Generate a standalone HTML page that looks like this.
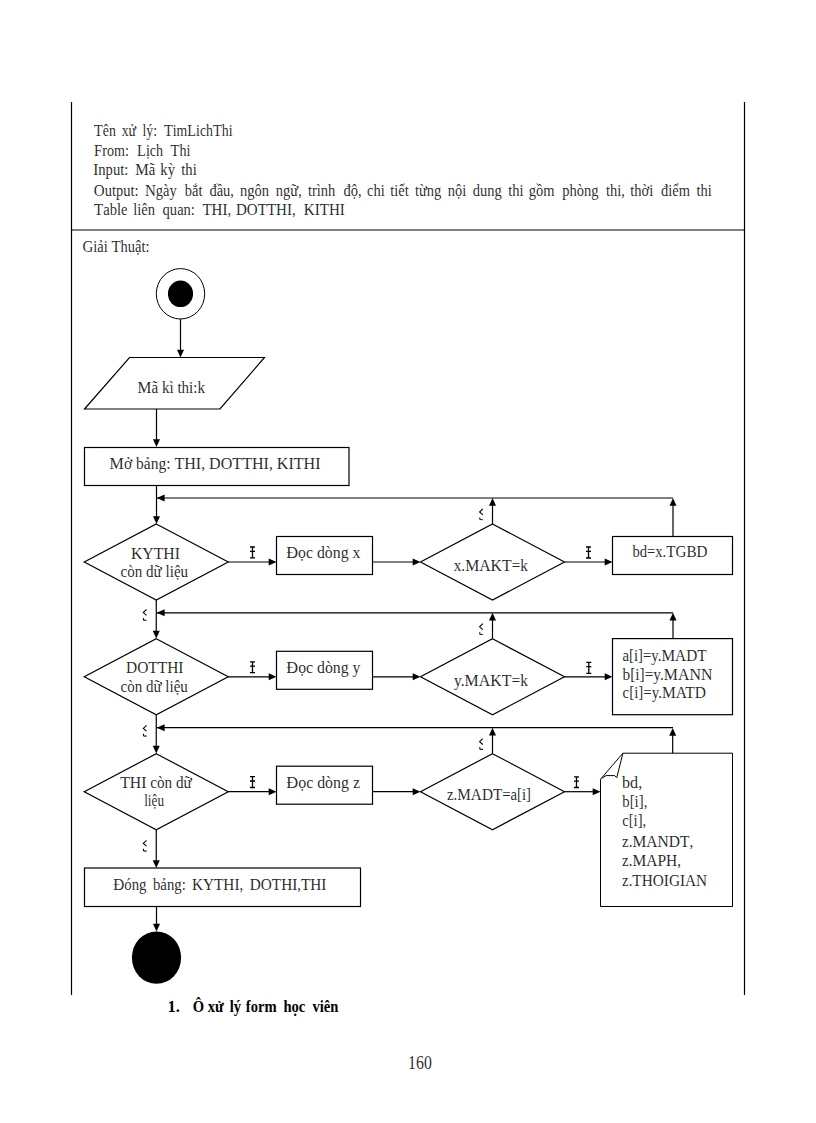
<!DOCTYPE html>
<html><head><meta charset="utf-8"><style>
html,body{margin:0;padding:0;background:#fff;}
svg{display:block;}
text{font-family:"Liberation Serif", serif;fill:#000;fill-opacity:0.85;} text[font-weight=bold]{fill-opacity:1;}
</style></head><body>
<svg width="816" height="1123" viewBox="0 0 816 1123">
<line x1="71.5" y1="102" x2="71.5" y2="995" stroke="#000" stroke-width="1.2"/>
<line x1="744.5" y1="102" x2="744.5" y2="995" stroke="#000" stroke-width="1.2"/>
<line x1="71" y1="230" x2="745" y2="230" stroke="#000" stroke-width="1.2"/>
<ellipse cx="180.5" cy="293.8" rx="24.2" ry="25.2" fill="none" stroke="#000" stroke-width="1"/>
<ellipse cx="180.5" cy="293.8" rx="12.6" ry="13.3" fill="#000"/>
<line x1="180.5" y1="319" x2="180.5" y2="352" stroke="#000" stroke-width="1.2"/>
<polygon points="177.0,349.7 184.0,349.7 180.5,357.5" fill="#000"/>
<polygon points="129.5,357.5 264.5,357.5 220,409 84.5,409" fill="none" stroke="#000" stroke-width="1.2"/>
<line x1="156.5" y1="409" x2="156.5" y2="441" stroke="#000" stroke-width="1.2"/>
<polygon points="153.0,439.2 160.0,439.2 156.5,447" fill="#000"/>
<rect x="84.5" y="447.5" width="264.5" height="38.0" fill="none" stroke="#000" stroke-width="1.2"/>
<line x1="156.5" y1="485.5" x2="156.5" y2="518" stroke="#000" stroke-width="1.2"/>
<polygon points="153.0,516.2 160.0,516.2 156.5,524" fill="#000"/>
<polygon points="156.25,524 228.25,562 156.25,600 84.25,562" fill="none" stroke="#000" stroke-width="1.2"/>
<rect x="276.5" y="536.5" width="96.0" height="38.0" fill="none" stroke="#000" stroke-width="1.2"/>
<line x1="228.25" y1="562" x2="270" y2="562" stroke="#000" stroke-width="1.2"/>
<polygon points="268.7,558.5 268.7,565.5 276.5,562" fill="#000"/>
<path d="M250.0,547 H255.0 M252.5,547 V557.8 M250.0,557.8 H255.0 M250.0,551.3199999999999 H255.0" stroke="#000" stroke-width="1.3" fill="none"/>
<polygon points="492.5,524 564.5,562 492.5,600 420.5,562" fill="none" stroke="#000" stroke-width="1.2"/>
<line x1="372.5" y1="562" x2="414" y2="562" stroke="#000" stroke-width="1.2"/>
<polygon points="412.7,558.5 412.7,565.5 420.5,562" fill="#000"/>
<line x1="492.5" y1="524" x2="492.5" y2="504" stroke="#000" stroke-width="1.2"/>
<polygon points="489.0,505.8 496.0,505.8 492.5,498" fill="#000"/>
<path d="M482.8,508.9 L479.59999999999997,512.0 L482.8,514.8 M479.7,517.5 L480.0,519.8 M480.0,519.5 L482.8,519.7" stroke="#000" stroke-width="1.1" fill="none"/>
<line x1="156.5" y1="498" x2="673" y2="498" stroke="#000" stroke-width="1.2"/>
<polygon points="164.60000000000002,494.5 164.60000000000002,501.5 156.8,498" fill="#000"/>
<polygon points="156.25,638.8 228.25,676.8 156.25,714.8 84.25,676.8" fill="none" stroke="#000" stroke-width="1.2"/>
<rect x="276.5" y="651.3" width="96.0" height="38.0" fill="none" stroke="#000" stroke-width="1.2"/>
<line x1="228.25" y1="676.8" x2="270" y2="676.8" stroke="#000" stroke-width="1.2"/>
<polygon points="268.7,673.3 268.7,680.3 276.5,676.8" fill="#000"/>
<path d="M250.0,661.8 H255.0 M252.5,661.8 V672.5999999999999 M250.0,672.5999999999999 H255.0 M250.0,666.1199999999999 H255.0" stroke="#000" stroke-width="1.3" fill="none"/>
<polygon points="492.5,638.8 564.5,676.8 492.5,714.8 420.5,676.8" fill="none" stroke="#000" stroke-width="1.2"/>
<line x1="372.5" y1="676.8" x2="414" y2="676.8" stroke="#000" stroke-width="1.2"/>
<polygon points="412.7,673.3 412.7,680.3 420.5,676.8" fill="#000"/>
<line x1="492.5" y1="638.8" x2="492.5" y2="618.8" stroke="#000" stroke-width="1.2"/>
<polygon points="489.0,620.5999999999999 496.0,620.5999999999999 492.5,612.8" fill="#000"/>
<path d="M482.8,623.6999999999999 L479.59999999999997,626.8 L482.8,629.5999999999999 M479.7,632.3 L480.0,634.5999999999999 M480.0,634.3 L482.8,634.5" stroke="#000" stroke-width="1.1" fill="none"/>
<line x1="156.5" y1="612.8" x2="673" y2="612.8" stroke="#000" stroke-width="1.2"/>
<polygon points="164.60000000000002,609.3 164.60000000000002,616.3 156.8,612.8" fill="#000"/>
<polygon points="156.25,753.7 228.25,791.7 156.25,829.7 84.25,791.7" fill="none" stroke="#000" stroke-width="1.2"/>
<rect x="276.5" y="766.2" width="96.0" height="38.0" fill="none" stroke="#000" stroke-width="1.2"/>
<line x1="228.25" y1="791.7" x2="270" y2="791.7" stroke="#000" stroke-width="1.2"/>
<polygon points="268.7,788.2 268.7,795.2 276.5,791.7" fill="#000"/>
<path d="M250.0,776.7 H255.0 M252.5,776.7 V787.5 M250.0,787.5 H255.0 M250.0,781.02 H255.0" stroke="#000" stroke-width="1.3" fill="none"/>
<polygon points="492.5,753.7 564.5,791.7 492.5,829.7 420.5,791.7" fill="none" stroke="#000" stroke-width="1.2"/>
<line x1="372.5" y1="791.7" x2="414" y2="791.7" stroke="#000" stroke-width="1.2"/>
<polygon points="412.7,788.2 412.7,795.2 420.5,791.7" fill="#000"/>
<line x1="492.5" y1="753.7" x2="492.5" y2="733.7" stroke="#000" stroke-width="1.2"/>
<polygon points="489.0,735.5 496.0,735.5 492.5,727.7" fill="#000"/>
<path d="M482.8,738.6 L479.59999999999997,741.7 L482.8,744.5 M479.7,747.2 L480.0,749.5 M480.0,749.2 L482.8,749.4000000000001" stroke="#000" stroke-width="1.1" fill="none"/>
<line x1="156.5" y1="727.7" x2="673" y2="727.7" stroke="#000" stroke-width="1.2"/>
<polygon points="164.60000000000002,724.2 164.60000000000002,731.2 156.8,727.7" fill="#000"/>
<rect x="612.5" y="536.5" width="120.0" height="38.0" fill="none" stroke="#000" stroke-width="1.2"/>
<line x1="564.5" y1="562" x2="606" y2="562" stroke="#000" stroke-width="1.2"/>
<polygon points="604.7,558.5 604.7,565.5 612.5,562" fill="#000"/>
<path d="M586.0,547 H591.0 M588.5,547 V558 M586.0,558 H591.0 M586.0,551.4 H591.0" stroke="#000" stroke-width="1.3" fill="none"/>
<line x1="673" y1="536.5" x2="673" y2="504" stroke="#000" stroke-width="1.2"/>
<polygon points="669.5,505.8 676.5,505.8 673,498" fill="#000"/>
<line x1="156.25" y1="600" x2="156.25" y2="631" stroke="#000" stroke-width="1.2"/>
<polygon points="152.75,630.7 159.75,630.7 156.25,638.5" fill="#000"/>
<path d="M146.5,609.5 L143.3,612.6 L146.5,615.4 M143.4,618.1 L143.70000000000002,620.4 M143.70000000000002,620.1 L146.5,620.3000000000001" stroke="#000" stroke-width="1.1" fill="none"/>
<rect x="612.5" y="638.6" width="120.0" height="76.10000000000002" fill="none" stroke="#000" stroke-width="1.2"/>
<line x1="564.5" y1="676.8" x2="606" y2="676.8" stroke="#000" stroke-width="1.2"/>
<polygon points="604.7,673.3 604.7,680.3 612.5,676.8" fill="#000"/>
<path d="M586.3,662.3 H591.3 M588.8,662.3 V673.3 M586.3,673.3 H591.3 M586.3,666.6999999999999 H591.3" stroke="#000" stroke-width="1.3" fill="none"/>
<line x1="673" y1="638.6" x2="673" y2="619" stroke="#000" stroke-width="1.2"/>
<polygon points="669.5,620.5999999999999 676.5,620.5999999999999 673,612.8" fill="#000"/>
<line x1="156.25" y1="715" x2="156.25" y2="746" stroke="#000" stroke-width="1.2"/>
<polygon points="152.75,745.7 159.75,745.7 156.25,753.5" fill="#000"/>
<path d="M146.5,725.3 L143.3,728.4 L146.5,731.1999999999999 M143.4,733.9 L143.70000000000002,736.1999999999999 M143.70000000000002,735.9 L146.5,736.1" stroke="#000" stroke-width="1.1" fill="none"/>
<path d="M622.9,753.2 H732.5 V906.5 H600.5 V779.2 L622.9,753.2 L616.8,777.6 L614.6,775.6 L606,775.6 L601.5,778.5" fill="none" stroke="#000" stroke-width="1"/>
<line x1="564.5" y1="791.7" x2="594" y2="791.7" stroke="#000" stroke-width="1.2"/>
<polygon points="592.7,788.2 592.7,795.2 600.5,791.7" fill="#000"/>
<path d="M574.0,776.8 H579.0 M576.5,776.8 V787.5 M574.0,787.5 H579.0 M574.0,781.0799999999999 H579.0" stroke="#000" stroke-width="1.3" fill="none"/>
<line x1="672.7" y1="753.2" x2="672.7" y2="734" stroke="#000" stroke-width="1.2"/>
<polygon points="669.2,735.8 676.2,735.8 672.7,728" fill="#000"/>
<line x1="156.25" y1="830" x2="156.25" y2="861" stroke="#000" stroke-width="1.2"/>
<polygon points="152.75,860.2 159.75,860.2 156.25,868" fill="#000"/>
<path d="M146.5,840.3 L143.3,843.4 L146.5,846.1999999999999 M143.4,848.9 L143.70000000000002,851.1999999999999 M143.70000000000002,850.9 L146.5,851.1" stroke="#000" stroke-width="1.1" fill="none"/>
<rect x="84.5" y="868" width="276.0" height="38.5" fill="none" stroke="#000" stroke-width="1.2"/>
<line x1="156.5" y1="906.5" x2="156.5" y2="925" stroke="#000" stroke-width="1.2"/>
<polygon points="153.0,923.7 160.0,923.7 156.5,931.5" fill="#000"/>
<ellipse cx="156.5" cy="957.6" rx="24.6" ry="26.2" fill="#000"/>
<text transform="translate(82.5 252) scale(1 1.0625)" x="0" y="0" font-size="16" font-weight="normal" textLength="66.94" lengthAdjust="spacingAndGlyphs"><tspan font-size="16.6">G</tspan>iải <tspan font-size="16.6">T</tspan>huật:</text>
<text transform="translate(137.56 392.6) scale(1 1.0625)" x="0" y="0" font-size="16" font-weight="normal" textLength="67.45" lengthAdjust="spacingAndGlyphs"><tspan font-size="16.6">M</tspan>ã kì thi:k</text>
<text transform="translate(109.56 469.2) scale(1 1.0625)" x="0" y="0" font-size="16" font-weight="normal" textLength="211.04" lengthAdjust="spacingAndGlyphs"><tspan font-size="16.6">M</tspan>ở bảng: <tspan font-size="16.6">THI</tspan>, <tspan font-size="16.6">DOTTHI</tspan>, <tspan font-size="16.6">KITHI</tspan></text>
<text transform="translate(130.88 558.6) scale(1 1.0625)" x="0" y="0" font-size="16" font-weight="normal" textLength="49.16" lengthAdjust="spacingAndGlyphs"><tspan font-size="16.6">KYTHI</tspan></text>
<text transform="translate(120.5 577.4) scale(1 1.0625)" x="0" y="0" font-size="16" font-weight="normal" textLength="67.63" lengthAdjust="spacingAndGlyphs">còn dữ liệu</text>
<text transform="translate(286.3 558.3) scale(1 1.0625)" x="0" y="0" font-size="16" font-weight="normal" textLength="74.07" lengthAdjust="spacingAndGlyphs"><tspan font-size="16.6">Đ</tspan>ọc dòng x</text>
<text transform="translate(453.71 571.1) scale(1 1.0625)" x="0" y="0" font-size="16" font-weight="normal" textLength="74.23" lengthAdjust="spacingAndGlyphs">x.<tspan font-size="16.6">MAKT</tspan>=k</text>
<text transform="translate(632.44 557.3) scale(1 1.0625)" x="0" y="0" font-size="16" font-weight="normal" textLength="75.1" lengthAdjust="spacingAndGlyphs">bd=x.<tspan font-size="16.6">TGBD</tspan></text>
<text transform="translate(125.97 673.2) scale(1 1.0625)" x="0" y="0" font-size="16" font-weight="normal" textLength="57.51" lengthAdjust="spacingAndGlyphs"><tspan font-size="16.6">DOTTHI</tspan></text>
<text transform="translate(120.5 692.1) scale(1 1.0625)" x="0" y="0" font-size="16" font-weight="normal" textLength="67.33" lengthAdjust="spacingAndGlyphs">còn dữ liệu</text>
<text transform="translate(286.3 673) scale(1 1.0625)" x="0" y="0" font-size="16" font-weight="normal" textLength="74.11" lengthAdjust="spacingAndGlyphs"><tspan font-size="16.6">Đ</tspan>ọc dòng y</text>
<text transform="translate(454.0 686.1) scale(1 1.0625)" x="0" y="0" font-size="16" font-weight="normal" textLength="73.88" lengthAdjust="spacingAndGlyphs">y.<tspan font-size="16.6">MAKT</tspan>=k</text>
<text transform="translate(622.5 660.5) scale(1 1.0625)" x="0" y="0" font-size="16" font-weight="normal" textLength="84.13" lengthAdjust="spacingAndGlyphs">a[i]=y.<tspan font-size="16.6">MADT</tspan></text>
<text transform="translate(622.5 679.5) scale(1 1.0625)" x="0" y="0" font-size="16" font-weight="normal" textLength="89.92" lengthAdjust="spacingAndGlyphs">b[i]=y.<tspan font-size="16.6">MANN</tspan></text>
<text transform="translate(622.5 698.2) scale(1 1.0625)" x="0" y="0" font-size="16" font-weight="normal" textLength="83.5" lengthAdjust="spacingAndGlyphs">c[i]=y.<tspan font-size="16.6">MATD</tspan></text>
<text transform="translate(120.13 788) scale(1 1.0625)" x="0" y="0" font-size="16" font-weight="normal" textLength="71.7" lengthAdjust="spacingAndGlyphs"><tspan font-size="16.6">THI</tspan> còn dữ</text>
<text transform="translate(144.18 806.4) scale(1 1.0625)" x="0" y="0" font-size="16" font-weight="normal" textLength="19.82" lengthAdjust="spacingAndGlyphs">liệu</text>
<text transform="translate(286.3 788) scale(1 1.0625)" x="0" y="0" font-size="16" font-weight="normal" textLength="73.7" lengthAdjust="spacingAndGlyphs"><tspan font-size="16.6">Đ</tspan>ọc dòng z</text>
<text transform="translate(447.08 799.8) scale(1 1.0625)" x="0" y="0" font-size="16" font-weight="normal" textLength="83.92" lengthAdjust="spacingAndGlyphs">z.<tspan font-size="16.6">MADT</tspan>=a[i]</text>
<text transform="translate(622.05 787.8) scale(1 1.0625)" x="0" y="0" font-size="16" font-weight="normal" textLength="20.15" lengthAdjust="spacingAndGlyphs">bd,</text>
<text transform="translate(622.22 806.8) scale(1 1.0625)" x="0" y="0" font-size="16" font-weight="normal" textLength="25.12" lengthAdjust="spacingAndGlyphs">b[i],</text>
<text transform="translate(622.16 825.7) scale(1 1.0625)" x="0" y="0" font-size="16" font-weight="normal" textLength="24.06" lengthAdjust="spacingAndGlyphs">c[i],</text>
<text transform="translate(622.08 847) scale(1 1.0625)" x="0" y="0" font-size="16" font-weight="normal" textLength="71.22" lengthAdjust="spacingAndGlyphs">z.<tspan font-size="16.6">MANDT</tspan>,</text>
<text transform="translate(622.08 866.2) scale(1 1.0625)" x="0" y="0" font-size="16" font-weight="normal" textLength="58.92" lengthAdjust="spacingAndGlyphs">z.<tspan font-size="16.6">MAPH</tspan>,</text>
<text transform="translate(622.08 885.6) scale(1 1.0625)" x="0" y="0" font-size="16" font-weight="normal" textLength="85.11" lengthAdjust="spacingAndGlyphs">z.<tspan font-size="16.6">THOIGIAN</tspan></text>
<text transform="translate(167.5 1012.2) scale(1 1.0000)" x="0" y="0" font-size="16.5" font-weight="bold" textLength="12.41" lengthAdjust="spacingAndGlyphs">1.</text>
<text transform="translate(408.11 1069) scale(1 1.0000)" x="0" y="0" font-size="19" font-weight="normal" textLength="23.72" lengthAdjust="spacingAndGlyphs">160</text>
<text transform="translate(192.76 1012.2) scale(0.8852 1.0000)" x="0" y="0" font-size="16.5" font-weight="bold">Ô</text>
<text transform="translate(207.8 1012.2) scale(0.8852 1.0000)" x="0" y="0" font-size="16.5" font-weight="bold">xử</text>
<text transform="translate(229.8 1012.2) scale(0.8852 1.0000)" x="0" y="0" font-size="16.5" font-weight="bold">lý</text>
<text transform="translate(245.8 1012.2) scale(0.8852 1.0000)" x="0" y="0" font-size="16.5" font-weight="bold">form</text>
<text transform="translate(283.4 1012.2) scale(0.8852 1.0000)" x="0" y="0" font-size="16.5" font-weight="bold">học</text>
<text transform="translate(312.39 1012.2) scale(0.8852 1.0000)" x="0" y="0" font-size="16.5" font-weight="bold">viên</text>
<text transform="translate(94.0 136) scale(0.8646 1.0625)" x="0" y="0" font-size="16" font-weight="normal"><tspan font-size="16.6">T</tspan>ên</text>
<text transform="translate(121.71 136) scale(0.8646 1.0625)" x="0" y="0" font-size="16" font-weight="normal">xử</text>
<text transform="translate(142.41 136) scale(0.8646 1.0625)" x="0" y="0" font-size="16" font-weight="normal">lý:</text>
<text transform="translate(164.0 136) scale(0.8646 1.0625)" x="0" y="0" font-size="16" font-weight="normal"><tspan font-size="16.6">T</tspan>im<tspan font-size="16.6">L</tspan>ich<tspan font-size="16.6">T</tspan>hi</text>
<text transform="translate(94.1 155.5) scale(0.8795 1.0625)" x="0" y="0" font-size="16" font-weight="normal"><tspan font-size="16.6">F</tspan>rom:</text>
<text transform="translate(137.03 155.5) scale(0.8795 1.0625)" x="0" y="0" font-size="16" font-weight="normal"><tspan font-size="16.6">L</tspan>ịch</text>
<text transform="translate(170.58 155.5) scale(0.8795 1.0625)" x="0" y="0" font-size="16" font-weight="normal"><tspan font-size="16.6">T</tspan>hi</text>
<text transform="translate(93.24 175) scale(0.9149 1.0625)" x="0" y="0" font-size="16" font-weight="normal"><tspan font-size="16.6">I</tspan>nput:</text>
<text transform="translate(135.19 175) scale(0.9149 1.0625)" x="0" y="0" font-size="16" font-weight="normal"><tspan font-size="16.6">M</tspan>ã</text>
<text transform="translate(160.36 175) scale(0.9149 1.0625)" x="0" y="0" font-size="16" font-weight="normal">kỳ</text>
<text transform="translate(181.25 175) scale(0.9149 1.0625)" x="0" y="0" font-size="16" font-weight="normal">thi</text>
<text transform="translate(93.8 195.5) scale(0.9062 1.0625)" x="0" y="0" font-size="16" font-weight="normal"><tspan font-size="16.6">O</tspan>utput:</text>
<text transform="translate(144.99 195.5) scale(0.9062 1.0625)" x="0" y="0" font-size="16" font-weight="normal"><tspan font-size="16.6">N</tspan>gày</text>
<text transform="translate(184.8 195.5) scale(0.9062 1.0625)" x="0" y="0" font-size="16" font-weight="normal">bắt</text>
<text transform="translate(209.4 195.5) scale(0.9062 1.0625)" x="0" y="0" font-size="16" font-weight="normal">đầu,</text>
<text transform="translate(240.01 195.5) scale(0.9062 1.0625)" x="0" y="0" font-size="16" font-weight="normal">ngôn</text>
<text transform="translate(275.81 195.5) scale(0.9062 1.0625)" x="0" y="0" font-size="16" font-weight="normal">ngữ,</text>
<text transform="translate(307.91 195.5) scale(0.9062 1.0625)" x="0" y="0" font-size="16" font-weight="normal">trình</text>
<text transform="translate(343.6 195.5) scale(0.9062 1.0625)" x="0" y="0" font-size="16" font-weight="normal">độ,</text>
<text transform="translate(367.0 195.5) scale(0.9062 1.0625)" x="0" y="0" font-size="16" font-weight="normal">chi</text>
<text transform="translate(390.28 195.5) scale(0.9062 1.0625)" x="0" y="0" font-size="16" font-weight="normal">tiết</text>
<text transform="translate(414.91 195.5) scale(0.9062 1.0625)" x="0" y="0" font-size="16" font-weight="normal">từng</text>
<text transform="translate(447.81 195.5) scale(0.9062 1.0625)" x="0" y="0" font-size="16" font-weight="normal">nội</text>
<text transform="translate(472.8 195.5) scale(0.9062 1.0625)" x="0" y="0" font-size="16" font-weight="normal">dung</text>
<text transform="translate(508.31 195.5) scale(0.9062 1.0625)" x="0" y="0" font-size="16" font-weight="normal">thi</text>
<text transform="translate(528.83 195.5) scale(0.9062 1.0625)" x="0" y="0" font-size="16" font-weight="normal">gồm</text>
<text transform="translate(562.3 195.5) scale(0.9062 1.0625)" x="0" y="0" font-size="16" font-weight="normal">phòng</text>
<text transform="translate(605.91 195.5) scale(0.9062 1.0625)" x="0" y="0" font-size="16" font-weight="normal">thi,</text>
<text transform="translate(630.31 195.5) scale(0.9062 1.0625)" x="0" y="0" font-size="16" font-weight="normal">thời</text>
<text transform="translate(661.0 195.5) scale(0.9062 1.0625)" x="0" y="0" font-size="16" font-weight="normal">điểm</text>
<text transform="translate(696.51 195.5) scale(0.9062 1.0625)" x="0" y="0" font-size="16" font-weight="normal">thi</text>
<text transform="translate(94.0 214.8) scale(0.9091 1.0625)" x="0" y="0" font-size="16" font-weight="normal"><tspan font-size="16.6">T</tspan>able</text>
<text transform="translate(133.19 214.8) scale(0.9091 1.0625)" x="0" y="0" font-size="16" font-weight="normal">liên</text>
<text transform="translate(162.6 214.8) scale(0.9091 1.0625)" x="0" y="0" font-size="16" font-weight="normal">quan:</text>
<text transform="translate(202.39 214.8) scale(0.9091 1.0625)" x="0" y="0" font-size="16" font-weight="normal"><tspan font-size="16.6">THI</tspan>,</text>
<text transform="translate(235.9 214.8) scale(0.9091 1.0625)" x="0" y="0" font-size="16" font-weight="normal"><tspan font-size="16.6">DOTTHI</tspan>,</text>
<text transform="translate(303.77 214.8) scale(0.9091 1.0625)" x="0" y="0" font-size="16" font-weight="normal"><tspan font-size="16.6">KITHI</tspan></text>
<text transform="translate(113.23 890.2) scale(0.922 1.0625)" x="0" y="0" font-size="16" font-weight="normal"><tspan font-size="16.6">Đ</tspan>óng</text>
<text transform="translate(153.0 890.2) scale(0.922 1.0625)" x="0" y="0" font-size="16" font-weight="normal">bảng:</text>
<text transform="translate(191.93 890.2) scale(0.922 1.0625)" x="0" y="0" font-size="16" font-weight="normal"><tspan font-size="16.6">KYTHI</tspan>,</text>
<text transform="translate(249.7 890.2) scale(0.922 1.0625)" x="0" y="0" font-size="16" font-weight="normal"><tspan font-size="16.6">DOTHI</tspan>,<tspan font-size="16.6">THI</tspan></text>
</svg>
</body></html>
